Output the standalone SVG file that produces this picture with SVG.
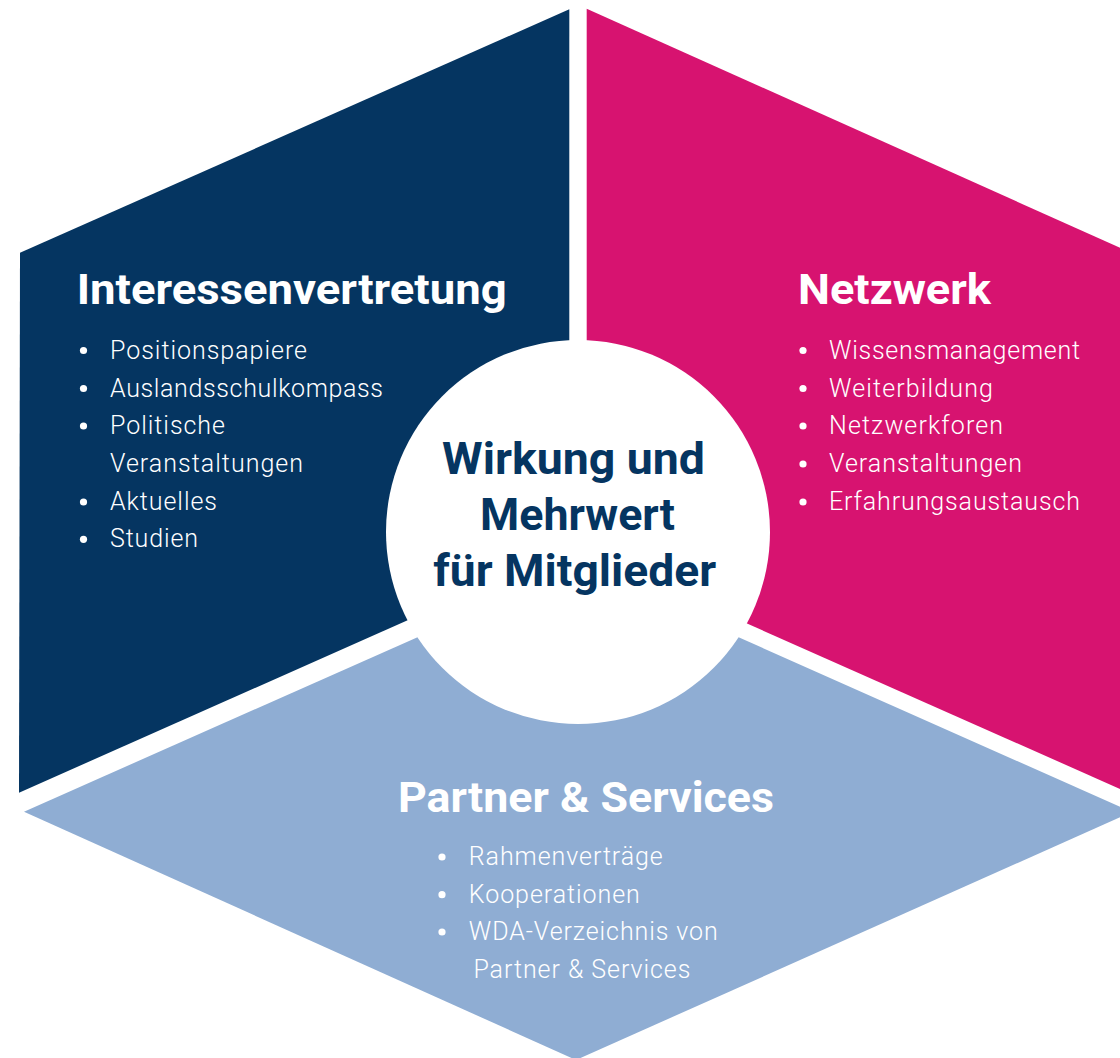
<svg xmlns="http://www.w3.org/2000/svg" width="1120" height="1058" viewBox="0 0 1120 1058">
<style>
.h{font-family:Roboto,"Liberation Sans",sans-serif;font-weight:700;font-size:42px;fill:#ffffff}
.b{font-family:Roboto,"Liberation Sans",sans-serif;font-weight:300;font-size:25px;fill:#ffffff}
.c{font-family:Roboto,"Liberation Sans",sans-serif;font-weight:700;font-size:44px;fill:#053561;text-anchor:middle}
.dot{fill:#ffffff}
</style>
<rect width="1120" height="1058" fill="#ffffff"/>
<g id="interessenvertretung">
<polygon points="20,252.7 569.3,9.3 569.3,548.5 19,792.7" fill="#053561"/>
<text class="h" x="76.7" y="304" textLength="430" lengthAdjust="spacingAndGlyphs">Interessenvertretung</text>
<circle class="dot" cx="83.5" cy="350.5" r="3.6"/>
<text class="b" x="110" y="358.7" textLength="197" lengthAdjust="spacing">Positionspapiere</text>
<circle class="dot" cx="83.5" cy="388.5" r="3.6"/>
<text class="b" x="110" y="396.7" textLength="273" lengthAdjust="spacing">Auslandsschulkompass</text>
<circle class="dot" cx="83.5" cy="426" r="3.6"/>
<text class="b" x="110" y="434" textLength="115" lengthAdjust="spacing">Politische</text>
<text class="b" x="110" y="472" textLength="193" lengthAdjust="spacing">Veranstaltungen</text>
<circle class="dot" cx="83.5" cy="502" r="3.6"/>
<text class="b" x="110" y="510" textLength="107" lengthAdjust="spacing">Aktuelles</text>
<circle class="dot" cx="83.5" cy="539.3" r="3.6"/>
<text class="b" x="110" y="547.3" textLength="88" lengthAdjust="spacing">Studien</text>
</g>
<g id="netzwerk">
<polygon points="586.7,8.7 1136,255 1136,796 586.7,552.4" fill="#d71370"/>
<text class="h" x="798" y="304" textLength="193" lengthAdjust="spacingAndGlyphs">Netzwerk</text>
<circle class="dot" cx="803" cy="350.5" r="3.6"/>
<text class="b" x="829" y="358.7" textLength="251" lengthAdjust="spacing">Wissensmanagement</text>
<circle class="dot" cx="803" cy="388.5" r="3.6"/>
<text class="b" x="829" y="396.7" textLength="164" lengthAdjust="spacing">Weiterbildung</text>
<circle class="dot" cx="803" cy="426" r="3.6"/>
<text class="b" x="829" y="434" textLength="174" lengthAdjust="spacing">Netzwerkforen</text>
<circle class="dot" cx="803" cy="464" r="3.6"/>
<text class="b" x="829" y="472" textLength="193" lengthAdjust="spacing">Veranstaltungen</text>
<circle class="dot" cx="803" cy="502" r="3.6"/>
<text class="b" x="829" y="510" textLength="251" lengthAdjust="spacing">Erfahrungsaustausch</text>
</g>
<g id="partner-services">
<polygon points="24,811.7 578,566 1132,812 576,1060" fill="#8fadd3"/>
<text class="h" x="398" y="811.7" textLength="376" lengthAdjust="spacingAndGlyphs">Partner &amp; Services</text>
<circle class="dot" cx="442" cy="857" r="3.6"/>
<text class="b" x="468.8" y="865" textLength="194" lengthAdjust="spacing">Rahmenverträge</text>
<circle class="dot" cx="442" cy="894.7" r="3.6"/>
<text class="b" x="468.8" y="902.7" textLength="171" lengthAdjust="spacing">Kooperationen</text>
<circle class="dot" cx="442" cy="932" r="3.6"/>
<text class="b" x="468.8" y="940" textLength="249" lengthAdjust="spacing">WDA-Verzeichnis von</text>
<text class="b" x="473.4" y="978.3" textLength="217" lengthAdjust="spacing">Partner &amp; Services</text>
</g>
<g id="center">
<circle cx="578" cy="532" r="192" fill="#ffffff"/>
<text class="c" x="573.5" y="474" textLength="263" lengthAdjust="spacingAndGlyphs">Wirkung und</text>
<text class="c" x="577.5" y="530" textLength="195" lengthAdjust="spacingAndGlyphs">Mehrwert</text>
<text class="c" x="574.7" y="586" textLength="283" lengthAdjust="spacingAndGlyphs">für Mitglieder</text>
</g>
<g id="connectors"/>
</svg>
